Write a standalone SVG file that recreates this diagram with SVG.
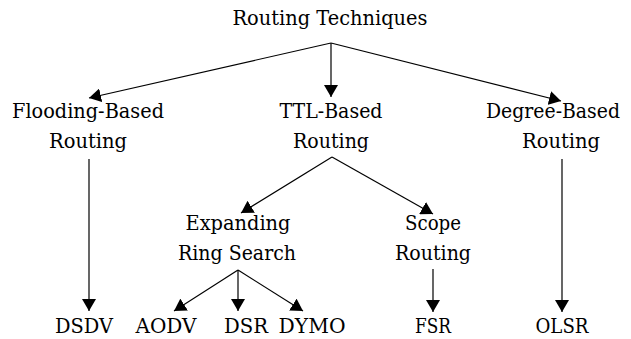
<svg xmlns="http://www.w3.org/2000/svg" width="631" height="339" viewBox="0 0 631 339">
  <style>
    .lbl { font-family: "DejaVu Serif", "Liberation Serif", serif; font-size: 21px; fill: #000; text-anchor: middle; }
    .edge { stroke: #000; stroke-width: 1.2; fill: none; marker-end: url(#head); }
  </style>
  <defs>
    <marker id="head" viewBox="0 0 12 14" refX="12" refY="7" markerWidth="12" markerHeight="14" markerUnits="userSpaceOnUse" orient="auto">
      <path d="M0,0 L12,7 L0,14 Z" fill="#000"/>
    </marker>
  </defs>
  <rect width="631" height="339" fill="#fff"/>

  <g id="connectors">
    <path class="edge" d="M331,43 L89,98"/>
    <path class="edge" d="M331,43 L331,97"/>
    <path class="edge" d="M331,43 L561,101"/>
    <path class="edge" d="M89,159 L89,311"/>
    <path class="edge" d="M562,159 L562,312"/>
    <path class="edge" d="M332,157 L241,213"/>
    <path class="edge" d="M332,157 L433,214"/>
    <path class="edge" d="M238,270 L174,311"/>
    <path class="edge" d="M238,270 L238,311"/>
    <path class="edge" d="M238,270 L303,311"/>
    <path class="edge" d="M433,269 L433,312"/>
  </g>

  <g id="root"><text class="lbl" x="330" y="25" textLength="195" lengthAdjust="spacingAndGlyphs">Routing Techniques</text></g>
  <g id="flooding"><text class="lbl" x="88" y="118" textLength="152" lengthAdjust="spacingAndGlyphs">Flooding-Based</text><text class="lbl" x="88" y="148" textLength="78" lengthAdjust="spacingAndGlyphs">Routing</text></g>
  <g id="ttl"><text class="lbl" x="331" y="118" textLength="103" lengthAdjust="spacingAndGlyphs">TTL-Based</text><text class="lbl" x="331" y="148" textLength="76" lengthAdjust="spacingAndGlyphs">Routing</text></g>
  <g id="degree"><text class="lbl" x="553" y="118" font-size="20" textLength="134" lengthAdjust="spacingAndGlyphs">Degree-Based</text><text class="lbl" x="561" y="148" textLength="78" lengthAdjust="spacingAndGlyphs">Routing</text></g>
  <g id="ers"><text class="lbl" x="238" y="230" textLength="105" lengthAdjust="spacingAndGlyphs">Expanding</text><text class="lbl" x="237" y="260" textLength="118" lengthAdjust="spacingAndGlyphs">Ring Search</text></g>
  <g id="scope"><text class="lbl" x="433" y="230" textLength="56" lengthAdjust="spacingAndGlyphs">Scope</text><text class="lbl" x="433" y="260" textLength="76" lengthAdjust="spacingAndGlyphs">Routing</text></g>
  <g id="dsdv"><text class="lbl" x="84" y="333" textLength="58" lengthAdjust="spacingAndGlyphs">DSDV</text></g>
  <g id="aodv"><text class="lbl" x="166" y="333" textLength="61" lengthAdjust="spacingAndGlyphs">AODV</text></g>
  <g id="dsr"><text class="lbl" x="246" y="333" textLength="44" lengthAdjust="spacingAndGlyphs">DSR</text></g>
  <g id="dymo"><text class="lbl" x="312" y="333" textLength="67" lengthAdjust="spacingAndGlyphs">DYMO</text></g>
  <g id="fsr"><text class="lbl" x="433" y="333" textLength="36" lengthAdjust="spacingAndGlyphs">FSR</text></g>
  <g id="olsr"><text class="lbl" x="562" y="333" textLength="53" lengthAdjust="spacingAndGlyphs">OLSR</text></g>
</svg>
